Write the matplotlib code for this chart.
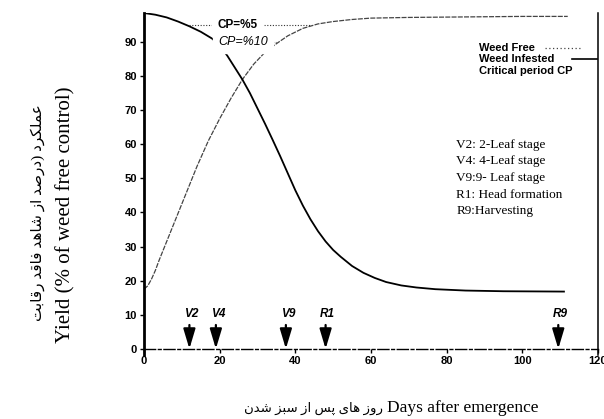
import matplotlib
matplotlib.use("Agg")
import matplotlib.pyplot as plt
from matplotlib.lines import Line2D

# yield curves (% of weed free control)
days_free = [0, 1, 2, 3, 4, 6, 8, 10, 12, 14, 17, 20, 23, 26, 29, 32, 35, 38, 42, 46, 50, 55, 60, 70, 80, 90, 100, 112]
yield_free = [17.5, 18.5, 20.5, 23, 26, 31.5, 37, 42.5, 48, 53.5, 61, 67.5, 73.5, 79, 83.5, 87, 89.5, 91.8, 94, 95.3,
              96, 96.6, 97, 97.2, 97.3, 97.4, 97.5, 97.5]
days_infested = [0, 3, 6, 9, 12, 15, 18, 20, 22, 24, 26, 28, 30, 32, 34, 36, 38, 40, 42, 44, 46, 48, 50, 52, 55,
                 58, 61, 64, 68, 72, 77, 85, 95, 111]
yield_infested = [98.5, 98, 97.2, 96, 94.6, 93, 91, 89, 86, 82.5, 79, 75, 70.5, 66, 61.3, 56.5, 51.5, 46.5, 42, 38,
                  34.5, 31.5, 29, 27, 24.3, 22.3, 20.8, 19.6, 18.6, 18, 17.5, 17.1, 16.9, 16.8]

stage_names = ["V2", "V4", "V9", "R1", "R9"]
stage_days = [12, 19, 37.5, 48, 109.5]
stage_notes = ["V2: 2-Leaf stage", "V4: 4-Leaf stage", "V9:9- Leaf stage", "R1: Head formation", "R9:Harvesting"]

cp_labels = ["CP=%5", "CP=%10"]
cp_levels = [95, 90]
cp_from = [12, 19.3]
cp_to = [44, 35]

legend_labels = ["Weed Free", "Weed Infested", "Critical period CP"]

xticks = [0, 20, 40, 60, 80, 100, 120]
yticks = [0, 10, 20, 30, 40, 50, 60, 70, 80, 90]

ylabel_fa = "عملکرد (درصد از شاهد فاقد رقابت"
ylabel_en = "Yield (% of weed free control)"
xlabel_fa = "روز های پس از سبز شدن"
xlabel_en = "Days after emergence"

# no text shaping in matplotlib: use presentation forms (isolated, final, initial, medial)
FORMS = {
    "ا": ("\uFE8D", "\uFE8E", None, None),
    "ب": ("\uFE8F", "\uFE90", "\uFE91", "\uFE92"),
    "ت": ("\uFE95", "\uFE96", "\uFE97", "\uFE98"),
    "د": ("\uFEA9", "\uFEAA", None, None),
    "ر": ("\uFEAD", "\uFEAE", None, None),
    "ز": ("\uFEAF", "\uFEB0", None, None),
    "س": ("\uFEB1", "\uFEB2", "\uFEB3", "\uFEB4"),
    "ش": ("\uFEB5", "\uFEB6", "\uFEB7", "\uFEB8"),
    "ص": ("\uFEB9", "\uFEBA", "\uFEBB", "\uFEBC"),
    "ع": ("\uFEC9", "\uFECA", "\uFECB", "\uFECC"),
    "ف": ("\uFED1", "\uFED2", "\uFED3", "\uFED4"),
    "ق": ("\uFED5", "\uFED6", "\uFED7", "\uFED8"),
    "ل": ("\uFEDD", "\uFEDE", "\uFEDF", "\uFEE0"),
    "م": ("\uFEE1", "\uFEE2", "\uFEE3", "\uFEE4"),
    "ن": ("\uFEE5", "\uFEE6", "\uFEE7", "\uFEE8"),
    "ه": ("\uFEE9", "\uFEEA", "\uFEEB", "\uFEEC"),
    "و": ("\uFEED", "\uFEEE", None, None),
    "ک": ("\uFB8E", "\uFB8F", "\uFB90", "\uFB91"),
    "پ": ("\uFB56", "\uFB57", "\uFB58", "\uFB59"),
    "ی": ("\uFBFC", "\uFBFD", "\uFBFE", "\uFBFF"),
}


def shape_fa(s):
    out = []
    for i, c in enumerate(s):
        if c not in FORMS:
            out.append({"(": ")", ")": "("}.get(c, c))
            continue
        prev = s[i - 1] if i > 0 else None
        nxt = s[i + 1] if i + 1 < len(s) else None
        jp = prev in FORMS and FORMS[prev][2] is not None
        jn = nxt in FORMS and FORMS[c][2] is not None
        iso, fin, ini, med = FORMS[c]
        if jp and jn:
            out.append(med)
        elif jp:
            out.append(fin)
        elif jn:
            out.append(ini)
        else:
            out.append(iso)
    return "".join(reversed(out))


serif = ["Liberation Serif", "DejaVu Sans"]
sans = "Liberation Sans"

fig = plt.figure(figsize=(6.04, 4.19), dpi=100)
ax = fig.add_axes([144 / 604, 64 / 419, 454 / 604, 342 / 419])
ax.set_xlim(0, 120)
ax.set_ylim(-1.8, 98.5)

ax.plot(days_free, yield_free, color="#444444", lw=0.9, ls=(0, (4, 1)))
ax.plot(days_infested, yield_infested, color="black", lw=1.3)

# critical period leaders
for lab, lev, x0, x1 in zip(cp_labels, cp_levels, cp_from, cp_to):
    ax.plot([x0, x1], [lev, lev], color="#333333", lw=0.8, ls=(0, (1, 1.5)))
    if lab == cp_labels[0]:
        ax.text(x0 + 7.5, lev, lab, fontsize=8.5, family=sans, weight="bold", va="center", ha="left",
                backgroundcolor="white")
    else:
        ax.text(x0 + 0.3, lev, lab, fontsize=9, family=sans, style="italic", va="center", ha="left",
                backgroundcolor="white")

# growth stages
for name, d in zip(stage_names, stage_days):
    ax.annotate("", xy=(d, 0), xytext=(d, 7),
                arrowprops=dict(arrowstyle="-|>,head_length=1.2,head_width=0.36", color="black",
                                lw=1.6, shrinkA=0, shrinkB=0))
    ax.text(d + 0.5, 10.3, name, fontsize=8.5, family=sans, weight="bold", style="italic",
            ha="center", va="center")

for i, note in enumerate(stage_notes):
    ax.text(82.5, 59.8 - i * 4.85, note, fontsize=9.5, family=serif, ha="left", va="center")

# key in the upper right, text first and line sample after it
key_styles = [dict(color="#444444", lw=0.9, ls=(0, (1, 2))), dict(color="black", lw=1.2), None]
key_spans = [(545, 580), (572, 597), None]
for i, (lab, sty, span) in enumerate(zip(legend_labels, key_styles, key_spans)):
    yk = 1 - (48 + i * 11.5) / 419
    fig.text(479 / 604, yk, lab, fontsize=8, family=sans, weight="bold", ha="left", va="center")
    if sty is not None:
        fig.add_artist(Line2D([span[0] / 604, span[1] / 604], [yk, yk], transform=fig.transFigure, **sty))

ax.spines["top"].set_visible(False)
ax.spines["left"].set_linewidth(2)
ax.spines["right"].set_linewidth(1.1)
ax.spines["bottom"].set_position(("data", 0))
ax.spines["bottom"].set_linestyle((0, (8, 2, 2, 2)))
ax.spines["bottom"].set_linewidth(1)

ax.set_xticks(xticks)
ax.set_yticks(yticks)
ax.tick_params(axis="both", direction="out", length=3, width=1, pad=2)
for t in ax.get_xticklabels() + ax.get_yticklabels():
    t.set_family(sans)
    t.set_weight("bold")
    t.set_fontsize(8)

fig.text(38 / 604, 1 - 213 / 419, shape_fa(ylabel_fa), rotation=90, ha="center", va="center",
         fontsize=11, family=serif)
fig.text(66 / 604, 1 - 215 / 419, ylabel_en, rotation=90, ha="center", va="center",
         fontsize=15, family=serif)
fig.text(383 / 604, 1 - 408 / 419, shape_fa(xlabel_fa), ha="right", va="center",
         fontsize=9.5, family=serif)
fig.text(387 / 604, 1 - 408 / 419, xlabel_en, ha="left", va="center",
         fontsize=12.5, family=serif)

fig.savefig("out.png", dpi=100)
